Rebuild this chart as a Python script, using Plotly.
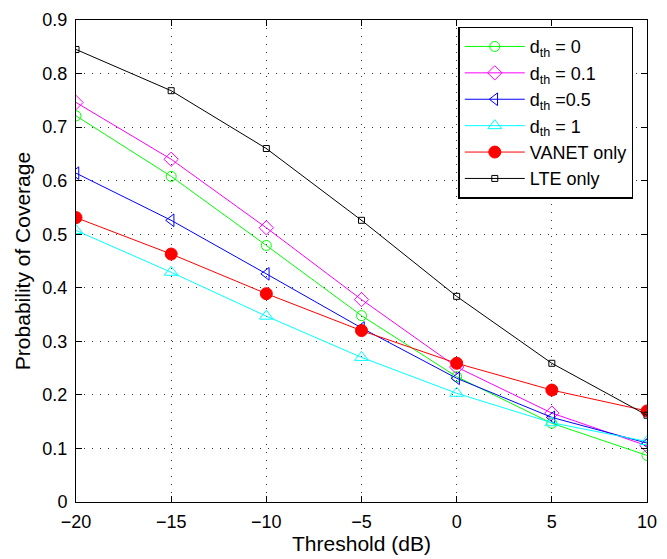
import plotly.graph_objects as go

threshold_db = [-20, -15, -10, -5, 0, 5, 10]
d_th_0 = [0.721, 0.608, 0.479, 0.348, 0.234, 0.147, 0.087]
d_th_01 = [0.746, 0.640, 0.512, 0.378, 0.252, 0.166, 0.105]
d_th_05 = [0.614, 0.526, 0.426, 0.325, 0.231, 0.158, 0.110]
d_th_1 = [0.507, 0.429, 0.347, 0.270, 0.203, 0.148, 0.113]
vanet_only = [0.531, 0.463, 0.389, 0.320, 0.259, 0.209, 0.170]
lte_only = [0.845, 0.768, 0.660, 0.526, 0.384, 0.259, 0.162]

series = [
    ("d<sub>th</sub> = 0", d_th_0, "#00ff00", "circle-open", 10),
    ("d<sub>th</sub> = 0.1", d_th_01, "#ff00ff", "diamond-open", 11),
    ("d<sub>th</sub> =0.5", d_th_05, "#0000ff", "triangle-left-open", 11),
    ("d<sub>th</sub> = 1", d_th_1, "#00ffff", "triangle-up-open", 12),
    ("VANET only", vanet_only, "#ff0000", "circle", 12),
    ("LTE only", lte_only, "#000000", "square-open", 6),
]

FONT = "Liberation Sans, Arial"

fig = go.Figure()
for name, ys, color, sym, size in series:
    fig.add_trace(go.Scatter(
        x=threshold_db, y=ys, name=name, mode="lines+markers",
        line=dict(color=color, width=1),
        marker=dict(symbol=sym, size=size, color=color, line=dict(color=color, width=1)),
    ))

axis_common = dict(
    showline=True, linecolor="black", linewidth=1, mirror="ticks",
    ticks="inside", ticklen=6, tickcolor="black",
    showgrid=True, gridcolor="#333333", griddash="1px,7px", gridwidth=1,
    zeroline=False,
    tickfont=dict(family=FONT, size=18, color="black"),
    title_font=dict(family=FONT, size=21, color="black"),
)

fig.update_xaxes(range=[-20, 10], tickvals=threshold_db, title_text="Threshold (dB)",
                 title_standoff=1, ticklabelstandoff=3, **axis_common)
fig.update_yaxes(range=[0, 0.9], dtick=0.1, tickformat=".1~f", title_text="Probability of Coverage",
                 title_standoff=6, ticklabelstandoff=4, **axis_common)

fig.update_layout(
    width=667, height=559,
    margin=dict(l=76, r=10, t=13, b=57),
    plot_bgcolor="white", paper_bgcolor="white",
    font=dict(family=FONT, size=18, color="black"),
    legend=dict(
        x=0.976, y=0.986, xanchor="right", yanchor="top",
        bgcolor="white", bordercolor="black", borderwidth=1.5,
        font=dict(family=FONT, size=18, color="black"),
        tracegroupgap=0, itemwidth=60,
    ),
    showlegend=True,
)

fig.write_html("out.html")
